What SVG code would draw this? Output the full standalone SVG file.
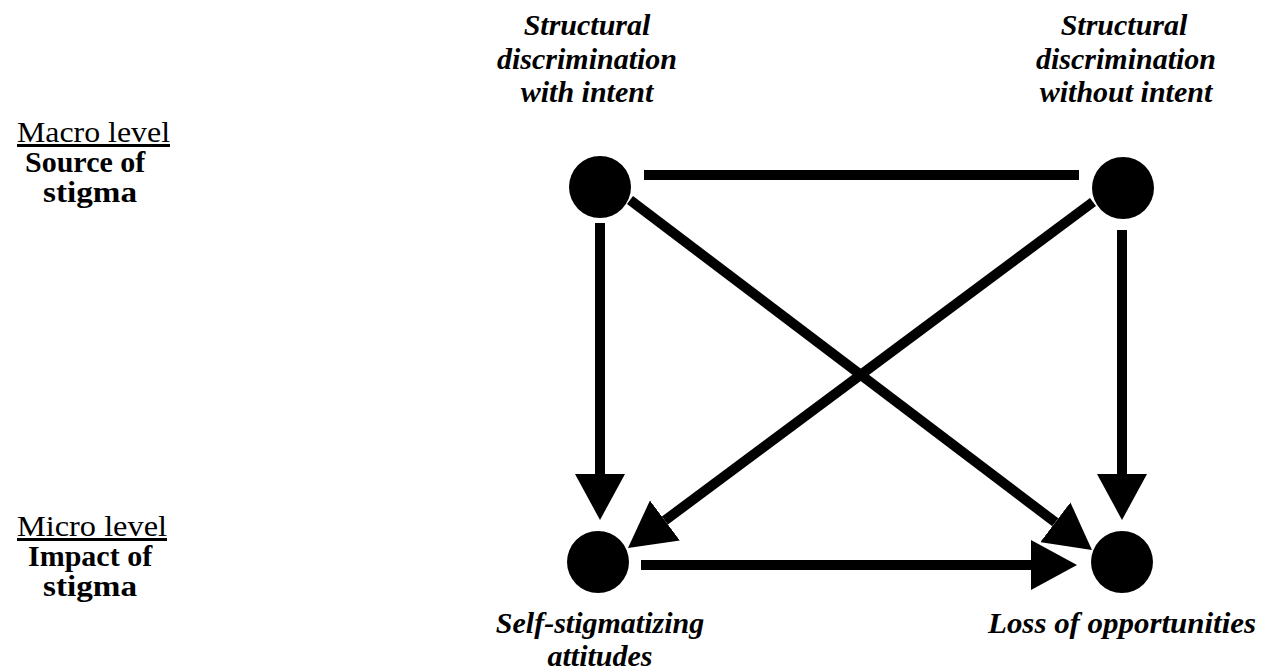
<svg xmlns="http://www.w3.org/2000/svg" width="1264" height="672" viewBox="0 0 1264 672">
<style>
.lbl{font-family:"Liberation Serif","Times New Roman",serif;font-size:30px;font-weight:bold;font-style:italic;fill:#000;text-anchor:middle}
.lvl{font-family:"Liberation Serif","Times New Roman",serif;font-size:30px;fill:#000}
.lvlu{text-decoration:underline}
.b{font-weight:bold}
.node{fill:#000}
.edge{stroke:#000;stroke-width:10;fill:none}
</style>
<defs>
<marker id="ah" viewBox="0 0 46 50" refX="0" refY="25" markerWidth="46" markerHeight="50" markerUnits="userSpaceOnUse" orient="auto">
<path d="M0,0 L46,25 L0,50 Z" fill="#000"/>
</marker>
</defs>
<rect width="1264" height="672" fill="#fff"/>
<g id="level-labels">
<text class="lvl lvlu" x="17" y="142" textLength="153" lengthAdjust="spacingAndGlyphs">Macro level</text>
<text class="lvl b" x="25" y="172">Source of</text>
<text class="lvl b" x="43" y="202" textLength="94" lengthAdjust="spacingAndGlyphs">stigma</text>
<text class="lvl lvlu" x="17" y="536" textLength="150" lengthAdjust="spacingAndGlyphs">Micro level</text>
<text class="lvl b" x="28" y="566">Impact of</text>
<text class="lvl b" x="43" y="596" textLength="94" lengthAdjust="spacingAndGlyphs">stigma</text>
</g>
<g id="connectors">
<line class="edge" x1="644" y1="175" x2="1079" y2="175"/>
<line class="edge" x1="600" y1="223" x2="600" y2="474" marker-end="url(#ah)"/>
<line class="edge" x1="1122" y1="230" x2="1122" y2="474" marker-end="url(#ah)"/>
<line class="edge" x1="630" y1="200" x2="1055.3" y2="522.3" marker-end="url(#ah)"/>
<line class="edge" x1="1093" y1="202" x2="664.9" y2="520.5" marker-end="url(#ah)"/>
<line class="edge" x1="641" y1="565" x2="1031" y2="565" marker-end="url(#ah)"/>
</g>
<g id="node-intent">
<circle class="node" cx="600" cy="187" r="31"/>
<text class="lbl" x="587" y="35">Structural</text>
<text class="lbl" x="587" y="69">discrimination</text>
<text class="lbl" x="587" y="102">with intent</text>
</g>
<g id="node-without-intent">
<circle class="node" cx="1123" cy="188" r="31"/>
<text class="lbl" x="1124" y="35">Structural</text>
<text class="lbl" x="1126" y="69">discrimination</text>
<text class="lbl" x="1126" y="102">without intent</text>
</g>
<g id="node-self-stigma">
<circle class="node" cx="598" cy="562" r="31"/>
<text class="lbl" x="600" y="633">Self-stigmatizing</text>
<text class="lbl" x="600" y="666">attitudes</text>
</g>
<g id="node-loss">
<circle class="node" cx="1122" cy="562" r="31"/>
<text class="lbl" x="1122" y="633" textLength="268" lengthAdjust="spacingAndGlyphs">Loss of opportunities</text>
</g>
</svg>
